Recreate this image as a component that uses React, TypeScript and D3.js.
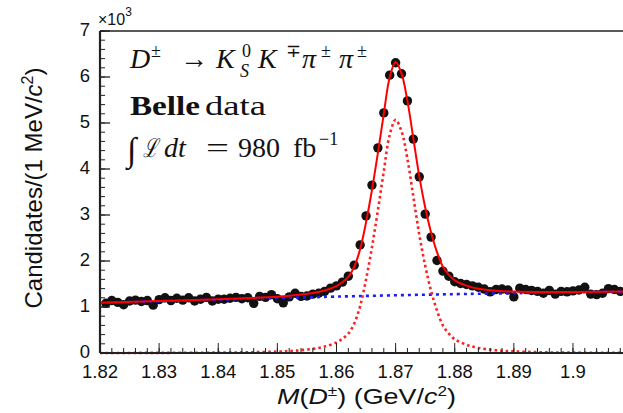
import React from "react";
import * as d3 from "d3";

// Histogram bin centres (GeV/c^2) and candidates (x10^3) per 1 MeV/c^2
const massBins = [
  1.821, 1.822, 1.823, 1.824, 1.825, 1.826, 1.827, 1.828, 1.829, 1.830,
  1.831, 1.832, 1.833, 1.834, 1.835, 1.836, 1.837, 1.838, 1.839, 1.840,
  1.841, 1.842, 1.843, 1.844, 1.845, 1.846, 1.847, 1.848, 1.849, 1.850,
  1.851, 1.852, 1.853, 1.854, 1.855, 1.856, 1.857, 1.858, 1.859, 1.860,
  1.861, 1.862, 1.863, 1.864, 1.865, 1.866, 1.867, 1.868, 1.869, 1.870,
  1.871, 1.872, 1.873, 1.874, 1.875, 1.876, 1.877, 1.878, 1.879, 1.880,
  1.881, 1.882, 1.883, 1.884, 1.885, 1.886, 1.887, 1.888, 1.889, 1.890,
  1.891, 1.892, 1.893, 1.894, 1.895, 1.896, 1.897, 1.898, 1.899, 1.900,
  1.901, 1.902, 1.903, 1.904, 1.905, 1.906, 1.907, 1.908,
];
const candidates = [
  1.08, 1.14, 1.10, 1.05, 1.13, 1.15, 1.12, 1.14, 1.04, 1.16,
  1.20, 1.14, 1.19, 1.15, 1.20, 1.13, 1.17, 1.21, 1.13, 1.17,
  1.17, 1.19, 1.21, 1.18, 1.20, 1.08, 1.23, 1.21, 1.27, 1.18,
  1.09, 1.22, 1.30, 1.23, 1.24, 1.28, 1.30, 1.34, 1.41, 1.46,
  1.54, 1.67, 1.91, 2.35, 2.98, 3.65, 4.46, 5.22, 6.04, 6.31,
  6.07, 5.48, 4.65, 3.83, 3.02, 2.52, 2.01, 1.78, 1.67, 1.55,
  1.51, 1.49, 1.46, 1.43, 1.39, 1.33, 1.38, 1.39, 1.37, 1.22,
  1.41, 1.38, 1.36, 1.34, 1.30, 1.36, 1.28, 1.34, 1.33, 1.35,
  1.37, 1.43, 1.28, 1.27, 1.30, 1.40, 1.38, 1.34,
];

// Fit components (x10^3)
const fitMass = [
  1.820, 1.830, 1.840, 1.845, 1.850, 1.853, 1.856, 1.858, 1.860, 1.861,
  1.862, 1.863, 1.864, 1.865, 1.866, 1.867, 1.868, 1.869, 1.870, 1.871,
  1.872, 1.873, 1.874, 1.875, 1.876, 1.877, 1.878, 1.879, 1.880, 1.882,
  1.884, 1.887, 1.890, 1.895, 1.900, 1.910,
];
const fitSignal = [
  0.000, 0.003, 0.008, 0.015, 0.030, 0.050, 0.090, 0.140, 0.230, 0.310,
  0.420, 0.640, 1.020, 1.600, 2.300, 3.100, 3.950, 4.740, 5.070, 4.820,
  4.220, 3.400, 2.580, 1.900, 1.350, 0.920, 0.600, 0.420, 0.300, 0.180,
  0.110, 0.060, 0.035, 0.015, 0.008, 0.003,
];
const fitBackground = [
  1.090, 1.125, 1.160, 1.178, 1.195, 1.205, 1.213, 1.220, 1.226, 1.229,
  1.232, 1.235, 1.238, 1.241, 1.244, 1.247, 1.250, 1.253, 1.256, 1.258,
  1.261, 1.263, 1.266, 1.268, 1.270, 1.273, 1.275, 1.277, 1.280, 1.284,
  1.288, 1.294, 1.300, 1.309, 1.318, 1.335,
];

const xTicks = [1.82, 1.83, 1.84, 1.85, 1.86, 1.87, 1.88, 1.89, 1.9];
const xTickLabels = ["1.82", "1.83", "1.84", "1.85", "1.86", "1.87", "1.88", "1.89", "1.9"];
const yTicks = [0, 1, 2, 3, 4, 5, 6, 7];
const yTickLabels = ["0", "1", "2", "3", "4", "5", "6", "7"];

const W = 623;
const H = 413;

export default function App() {
  const x = d3.scaleLinear().domain([1.82, 1.91]).range([100, 632.1]);
  const y = d3.scaleLinear().domain([0, 7]).range([353, 31]);
  const x0 = x(1.82);
  const y0 = y(0);
  const yTop = y(7);

  const xMinor = x.ticks(45);
  const yMinor = y.ticks(35);

  const sigPts = fitMass.map((m, i) => [m, fitSignal[i]] as [number, number]);
  const bkgPts = fitMass.map((m, i) => [m, fitBackground[i]] as [number, number]);
  const totPts = fitMass.map((m, i) => [m, fitSignal[i] + fitBackground[i]] as [number, number]);

  const line = d3
    .line<[number, number]>()
    .x((d) => x(d[0]))
    .y((d) => y(d[1]))
    .curve(d3.curveCatmullRom.alpha(0.5));

  const sans = "'Liberation Sans', Arial, Helvetica, sans-serif";
  const serif = "'Liberation Serif', 'Times New Roman', serif";
  const axisCol = "#222";

  return (
    <svg
      width={W}
      height={H}
      viewBox={`0 0 ${W} ${H}`}
      style={{ position: "absolute", left: 0, top: 0, background: "#fff" }}
    >
      <defs>
        <clipPath id="plotClip">
          <rect x={x0} y={yTop} width={W - x0} height={y0 - yTop + 2} />
        </clipPath>
      </defs>
      <rect x={0} y={0} width={W} height={H} fill="#fff" />

      {/* data points and fit */}
      <g clipPath="url(#plotClip)">
        {massBins.map((m, i) => (
          <circle key={i} cx={x(m)} cy={y(candidates[i])} r={4.7} fill="#111" />
        ))}
        <path d={line(bkgPts) || ""} fill="none" stroke="#1a1aff" strokeWidth={2.6} strokeDasharray="3 4" />
        <path d={line(sigPts) || ""} fill="none" stroke="#ff2020" strokeWidth={2.6} strokeDasharray="2.6 3" />
        <path d={line(totPts) || ""} fill="none" stroke="#ff0000" strokeWidth={2} />
      </g>

      {/* frame */}
      <line x1={x0} x2={W} y1={yTop} y2={yTop} stroke={axisCol} strokeWidth={1.6} />
      <line x1={x0} x2={x0} y1={yTop} y2={y0} stroke={axisCol} strokeWidth={2.2} />
      <line x1={x0} x2={W} y1={y0} y2={y0} stroke={axisCol} strokeWidth={2} />

      {/* x ticks */}
      {xMinor.map((t, i) => (
        <line key={"xm" + i} x1={x(t)} x2={x(t)} y1={y0} y2={y0 - 5} stroke={axisCol} strokeWidth={1} />
      ))}
      {xTicks.map((t, i) => (
        <g key={"xt" + i}>
          <line x1={x(t)} x2={x(t)} y1={y0} y2={y0 - 10} stroke={axisCol} strokeWidth={1} />
          <text x={x(t)} y={378} textAnchor="middle" fontFamily={sans} fontSize={18.5} fill="#111">
            {xTickLabels[i]}
          </text>
        </g>
      ))}

      {/* y ticks */}
      {yMinor.map((t, i) => (
        <line key={"ym" + i} x1={x0} x2={x0 + 5} y1={y(t)} y2={y(t)} stroke={axisCol} strokeWidth={1} />
      ))}
      {yTicks.map((t, i) => (
        <g key={"yt" + i}>
          <line x1={x0} x2={x0 + 10} y1={y(t)} y2={y(t)} stroke={axisCol} strokeWidth={1.3} />
          <text x={90} y={y(t) + 5} textAnchor="end" fontFamily={sans} fontSize={18.5} fill="#111">
            {yTickLabels[i]}
          </text>
        </g>
      ))}

      {/* x10^3 */}
      <text x={98} y={25} fontFamily={sans} fontSize={16} fill="#111">
        ×10<tspan fontSize={12} dy={-9}>3</tspan>
      </text>

      {/* axis titles */}
      <text
        x={277}
        y={404}
        fontFamily={sans}
        fontSize={22}
        fill="#111"
        textLength={179}
        lengthAdjust="spacingAndGlyphs"
      >
        <tspan fontStyle="italic">M</tspan>(<tspan fontStyle="italic">D</tspan>
        <tspan fontSize={14} dy={-8}>±</tspan>
        <tspan dy={8}>) (GeV/</tspan>
        <tspan fontStyle="italic">c</tspan>
        <tspan fontSize={14} dy={-8}>2</tspan>
        <tspan dy={8}>)</tspan>
      </text>
      <text
        transform="translate(42,188) rotate(-90)"
        textAnchor="middle"
        fontFamily={sans}
        fontSize={24}
        fill="#111"
      >
        Candidates/(1 MeV/<tspan fontStyle="italic">c</tspan>
        <tspan fontSize={16} dy={-9}>2</tspan>
        <tspan dy={9}>)</tspan>
      </text>

      {/* decay label */}
      <g fontFamily={serif} fill="#111">
        <text y={68} fontSize={28}>
          <tspan x={130} fontStyle="italic">D</tspan>
          <tspan x={151} dy={-11} fontSize={18}>±</tspan>
          <tspan x={180} dy={11}>→</tspan>
          <tspan x={216} fontStyle="italic">K</tspan>
          <tspan x={242} dy={-11} fontSize={18}>0</tspan>
          <tspan x={240} dy={20} fontSize={18} fontStyle="italic">S</tspan>
          <tspan x={258} dy={-9} fontStyle="italic">K</tspan>
          <tspan x={286} dy={-11} fontSize={18}>∓</tspan>
          <tspan x={302} dy={11} fontStyle="italic">π</tspan>
          <tspan x={321} dy={-11} fontSize={18}>±</tspan>
          <tspan x={339} dy={11} fontStyle="italic">π</tspan>
          <tspan x={357} dy={-11} fontSize={18}>±</tspan>
        </text>
        <text x={130} y={115} fontSize={28} fontWeight="bold" textLength={70} lengthAdjust="spacingAndGlyphs">
          Belle
        </text>
        <text x={205} y={115} fontSize={28} textLength={61} lengthAdjust="spacingAndGlyphs">
          data
        </text>
        <text x={127} y={161} fontSize={34}>∫</text>
        <text x={143} y={157} fontSize={26} fontStyle="italic" textLength={15} lengthAdjust="spacingAndGlyphs">
          ℒ
        </text>
        <text x={164} y={157} fontSize={28} fontStyle="italic">dt</text>
        <text x={206} y={157} fontSize={28} textLength={23} lengthAdjust="spacingAndGlyphs">=</text>
        <text x={238} y={157} fontSize={28}>980</text>
        <text x={293} y={157} fontSize={28}>fb</text>
        <text x={319} y={145} fontSize={18}>−1</text>
      </g>
    </svg>
  );
}
